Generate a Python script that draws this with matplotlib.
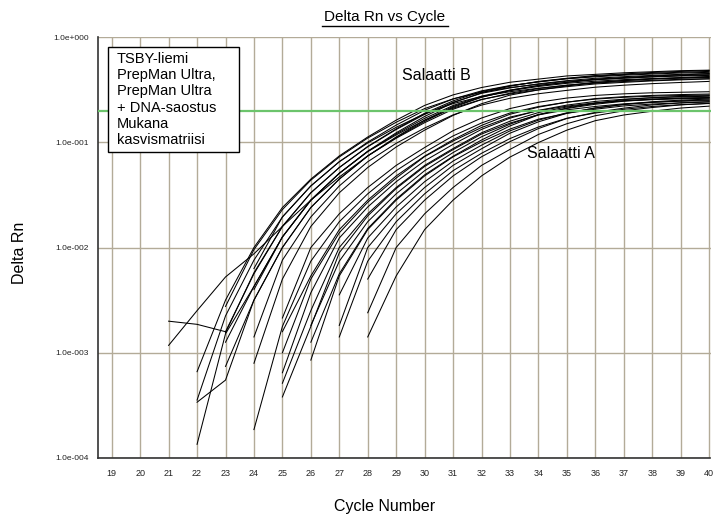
import numpy as np
import matplotlib
matplotlib.use("Agg")
import matplotlib.pyplot as plt
from matplotlib.patches import Rectangle
from matplotlib.lines import Line2D
from matplotlib.ticker import NullLocator, FixedLocator

plt.rcParams['font.family'] = ['Liberation Sans', 'DejaVu Sans']

# ---------------- data ----------------
CYCLE_TICKS = list(range(19, 41))
Y_TICKS = [1e-4, 1e-3, 1e-2, 1e-1, 1e0]
Y_TICK_LABELS = ["1.0e-004", "1.0e-003", "1.0e-002", "1.0e-001", "1.0e+000"]
THRESHOLD = 0.2

# Salaatti B curves: log10(Delta Rn), first value at the start cycle
B_START = [21, 21, 22, 22, 22, 22, 23, 23, 23, 23, 24, 24, 24, 24]
b01 = [-2.93, -2.60, -2.28, -2.06, -1.80, -1.55, -1.33, -1.13, -0.95, -0.79, -0.66, -0.57, -0.51, -0.47, -0.44, -0.42, -0.405, -0.395, -0.39, -0.385]
b02 = [-2.70, -2.73, -2.80, -2.25, -1.80, -1.48, -1.24, -1.043, -0.879, -0.735, -0.62, -0.535, -0.484, -0.445, -0.415, -0.392, -0.377, -0.365, -0.355, -0.347]
b03 = [-3.18, -2.5, -2.0, -1.62, -1.35, -1.13, -0.95, -0.79, -0.65, -0.55, -0.48, -0.43, -0.40, -0.37, -0.355, -0.34, -0.33, -0.32, -0.315]
b04 = [-3.45, -2.65, -2.12, -1.71, -1.415, -1.185, -0.998, -0.837, -0.696, -0.589, -0.512, -0.461, -0.427, -0.397, -0.378, -0.363, -0.352, -0.342, -0.336]
b05 = [-3.47, -3.26, -2.5, -2.0, -1.62, -1.35, -1.13, -0.962, -0.814, -0.686, -0.595, -0.534, -0.49, -0.46, -0.43, -0.415, -0.40, -0.39, -0.38]
b06 = [-3.87, -2.82, -2.37, -1.90, -1.55, -1.295, -1.087, -0.92, -0.773, -0.651, -0.562, -0.504, -0.462, -0.432, -0.406, -0.391, -0.377, -0.367, -0.358]
b07 = [-2.56, -2.02, -1.64, -1.36, -1.14, -0.96, -0.81, -0.68, -0.588, -0.525, -0.48, -0.45, -0.42, -0.405, -0.39, -0.38, -0.37, -0.365]
b08 = [-2.81, -2.24, -1.80, -1.48, -1.24, -1.04, -0.873, -0.725, -0.607, -0.518, -0.465, -0.425, -0.395, -0.372, -0.357, -0.345, -0.335, -0.327]
b09 = [-2.90, -2.37, -1.90, -1.55, -1.295, -1.089, -0.93, -0.791, -0.676, -0.593, -0.541, -0.502, -0.472, -0.446, -0.431, -0.417, -0.407, -0.398]
b10 = [-3.13, -2.5, -2.0, -1.62, -1.35, -1.13, -0.956, -0.802, -0.668, -0.573, -0.507, -0.46, -0.43, -0.40, -0.385, -0.37, -0.36, -0.35]
b11 = [-2.85, -2.12, -1.71, -1.415, -1.185, -1.01, -0.865, -0.74, -0.647, -0.582, -0.539, -0.507, -0.477, -0.458, -0.443, -0.432, -0.422]
b12 = [-3.10, -2.30, -1.80, -1.48, -1.24, -1.045, -0.885, -0.745, -0.634, -0.552, -0.503, -0.465, -0.435, -0.412, -0.397, -0.385, -0.375]
b13 = [-2.40, -1.90, -1.55, -1.295, -1.085, -0.91, -0.755, -0.625, -0.53, -0.467, -0.422, -0.392, -0.366, -0.351, -0.337, -0.327, -0.318]
b14 = [-2.2, -1.71, -1.415, -1.185, -1.007, -0.858, -0.729, -0.633, -0.565, -0.52, -0.487, -0.457, -0.438, -0.423, -0.412, -0.402, -0.396]

# Salaatti A curves: log10(Delta Rn), first value at the start cycle
A_START = [25, 24, 25, 25, 25, 25, 25, 26, 26, 26, 27, 27, 27, 28, 28, 28]
a01 = [-2.67, -2.0, -1.68, -1.43, -1.22, -1.05, -0.89, -0.77, -0.68, -0.62, -0.58, -0.555, -0.54, -0.53, -0.525, -0.52]
a02 = [-3.73, -2.75, -2.13, -1.755, -1.49, -1.27, -1.095, -0.94, -0.817, -0.722, -0.661, -0.619, -0.59, -0.573, -0.562, -0.556, -0.551]
a03 = [-2.80, -2.27, -1.83, -1.55, -1.32, -1.132, -0.976, -0.84, -0.734, -0.667, -0.619, -0.585, -0.567, -0.555, -0.547, -0.542]
a04 = [-3.0, -2.30, -1.86, -1.57, -1.34, -1.136, -0.988, -0.86, -0.761, -0.70, -0.657, -0.625, -0.607, -0.595, -0.587, -0.582]
a05 = [-3.19, -2.43, -1.91, -1.615, -1.375, -1.177, -1.02, -0.878, -0.771, -0.697, -0.647, -0.612, -0.591, -0.577, -0.568, -0.563]
a06 = [-3.29, -2.6, -2.0, -1.68, -1.43, -1.22, -1.06, -0.91, -0.80, -0.718, -0.665, -0.63, -0.605, -0.59, -0.58, -0.575]
a07 = [-3.42, -2.75, -2.05, -1.70, -1.44, -1.23, -1.07, -0.922, -0.818, -0.74, -0.692, -0.66, -0.635, -0.62, -0.61, -0.605]
a08 = [-2.74, -2.13, -1.755, -1.49, -1.27, -1.098, -0.948, -0.828, -0.736, -0.679, -0.639, -0.61, -0.593, -0.582, -0.576]
a09 = [-3.07, -2.27, -1.83, -1.55, -1.32, -1.139, -0.997, -0.875, -0.781, -0.725, -0.686, -0.655, -0.637, -0.625, -0.617]
a10 = [-2.90, -2.25, -1.82, -1.54, -1.31, -1.133, -0.979, -0.845, -0.74, -0.675, -0.629, -0.595, -0.577, -0.565, -0.557]
a11 = [-2.45, -1.91, -1.615, -1.375, -1.179, -1.028, -0.892, -0.79, -0.72, -0.675, -0.642, -0.621, -0.607, -0.598]
a12 = [-2.74, -2.0, -1.68, -1.43, -1.22, -1.062, -0.914, -0.806, -0.725, -0.674, -0.64, -0.615, -0.60, -0.59]
a13 = [-2.85, -2.13, -1.755, -1.49, -1.27, -1.105, -0.965, -0.855, -0.772, -0.722, -0.687, -0.66, -0.643, -0.632]
a14 = [-2.30, -1.83, -1.55, -1.32, -1.138, -0.994, -0.87, -0.774, -0.716, -0.676, -0.645, -0.627, -0.615]
a15 = [-2.62, -2.0, -1.68, -1.43, -1.22, -1.068, -0.926, -0.824, -0.748, -0.701, -0.67, -0.645, -0.63]
a16 = [-2.85, -2.27, -1.83, -1.55, -1.32, -1.141, -1.003, -0.885, -0.795, -0.741, -0.705, -0.675, -0.657]

B_CURVES = [b01, b02, b03, b04, b05, b06, b07, b08, b09, b10, b11, b12, b13, b14]
A_CURVES = [a01, a02, a03, a04, a05, a06, a07, a08, a09, a10, a11, a12, a13, a14, a15, a16]

BOX_TEXT = "TSBY-liemi\nPrepMan Ultra,\nPrepMan Ultra\n+ DNA-saostus\nMukana\nkasvismatriisi"

# ---------------- figure ----------------
W, H = 713, 517
fig = plt.figure(figsize=(W / 100, H / 100), dpi=100)
fig.patch.set_facecolor('white')

def fx(px):
    return px / W

def fy(py):
    return 1 - py / H

ax = fig.add_axes([fx(97.5), (H - 458) / H, (710.5 - 97.5) / W, (458 - 37) / H])
ax.set_yscale('log')
ax.set_xlim(18.5, 40.05)
ax.set_ylim(1e-4, 1.0)

ax.xaxis.set_major_locator(FixedLocator(CYCLE_TICKS))
ax.set_xticklabels([str(c) for c in CYCLE_TICKS])
ax.yaxis.set_major_locator(FixedLocator(Y_TICKS))
ax.yaxis.set_minor_locator(NullLocator())
ax.set_yticklabels(Y_TICK_LABELS)

grid_col = '#b3ab98'
ax.grid(True, which='major', color=grid_col, lw=1.0, zorder=0)
ax.set_axisbelow(True)
ax.tick_params(axis='both', length=0, colors='#222222')
ax.tick_params(axis='x', pad=8, labelsize=6.5)
ax.tick_params(axis='y', pad=6, labelsize=6)

for s in ['top', 'right']:
    ax.spines[s].set_visible(False)
for s in ['left', 'bottom']:
    ax.spines[s].set_color('#333333')
    ax.spines[s].set_linewidth(1.2)

for start, vals in zip(B_START, B_CURVES):
    x = np.arange(start, start + len(vals))
    ax.plot(x, 10 ** np.array(vals), color='black', lw=0.75, zorder=2)
for start, vals in zip(A_START, A_CURVES):
    x = np.arange(start, start + len(vals))
    ax.plot(x, 10 ** np.array(vals), color='black', lw=0.75, zorder=2)

ax.axhline(THRESHOLD, color='#6cc46c', lw=1.6, zorder=3)

# text box
rect = Rectangle((fx(108), fy(152)), (239 - 108) / W, (152 - 47) / H,
                 transform=fig.transFigure, facecolor='white', edgecolor='black',
                 lw=1.0, zorder=5)
fig.patches.append(rect)
fig.text(fx(117), fy(52), BOX_TEXT, ha='left', va='top', fontsize=10.5,
         linespacing=1.2, zorder=6)

fig.text(fx(402), fy(76), "Salaatti B", ha='left', va='center', fontsize=11.5)
fig.text(fx(527), fy(153.5), "Salaatti A", ha='left', va='center', fontsize=11.5)

# title with underline
fig.text(fx(385), fy(17.5), "Delta Rn vs Cycle", ha='center', va='center', fontsize=11)
fig.lines.append(Line2D([fx(322), fx(448)], [fy(25.5), fy(25.5)],
                        transform=fig.transFigure, color='black', lw=1.0))

fig.text(fx(385), fy(507), "Cycle Number", ha='center', va='center', fontsize=11.5)
fig.text(fx(19), fy(253), "Delta Rn", ha='center', va='center', rotation=90, fontsize=11.5)

fig.savefig('out.png', dpi=100, facecolor='white')
